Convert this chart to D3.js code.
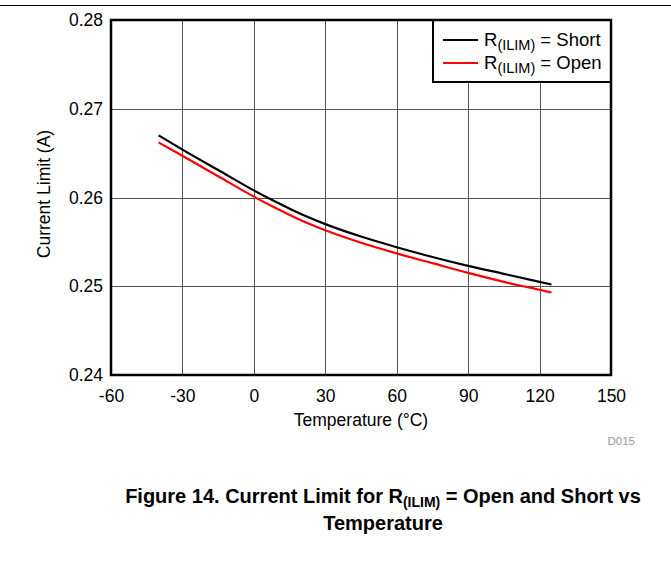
<!DOCTYPE html>
<html><head><meta charset="utf-8">
<script src="https://cdn.jsdelivr.net/npm/d3@7"></script>
<style>body{margin:0;background:#fff}svg{display:block;font-family:"Liberation Sans",Arial,sans-serif}</style>
</head><body>
<svg id="c" width="671" height="564"></svg>
<script>
const temps = [-40, -30, -15, 0, 10, 20, 30, 45, 60, 75, 90, 105, 120, 125];
const shortVals = [0.2670, 0.2654, 0.2631, 0.2608, 0.2594, 0.2581, 0.2570, 0.2556, 0.2544, 0.2533, 0.2523, 0.2514, 0.2505, 0.2502];
const openVals  = [0.2662, 0.2647, 0.2624, 0.2601, 0.2587, 0.2574, 0.2563, 0.2549, 0.2537, 0.2526, 0.2515, 0.2505, 0.2496, 0.2493];
const xTicks = [-60, -30, 0, 30, 60, 90, 120, 150];
const yTicks = [0.24, 0.25, 0.26, 0.27, 0.28];
const seriesNames = ["Short", "Open"];
const seriesColors = ["#000000", "#ff0000"];

const FONT = "Liberation Sans, Arial, sans-serif";
const svg = d3.select("#c");
const L = 111, R = 611, T = 20, B = 375;
const x = d3.scaleLinear().domain([-60, 150]).range([L, R]);
const y = d3.scaleLinear().domain([0.24, 0.28]).range([B, T]);

// top rule
svg.append("line").attr("x1", 0).attr("x2", 671).attr("y1", 5.5).attr("y2", 5.5).attr("stroke", "#000").attr("stroke-width", 1);

// grid
const g = svg.append("g");
g.selectAll(".vx").data(xTicks.slice(1, -1)).enter().append("line")
  .attr("x1", d => Math.round(x(d)) + 0.5).attr("x2", d => Math.round(x(d)) + 0.5)
  .attr("y1", T).attr("y2", B).attr("stroke", "#555").attr("stroke-width", 1);
g.selectAll(".hy").data(yTicks.slice(1, -1)).enter().append("line")
  .attr("y1", d => Math.round(y(d)) + 0.5).attr("y2", d => Math.round(y(d)) + 0.5)
  .attr("x1", L).attr("x2", R).attr("stroke", "#555").attr("stroke-width", 1);

// axes (labels only)
const xAxis = d3.axisBottom(x).tickValues(xTicks).tickSize(0).tickPadding(15).tickFormat(d => String(d));
const xa = svg.append("g").attr("transform", `translate(0,${B})`).call(xAxis);
xa.attr("font-size", null).attr("font-family", null);
xa.select(".domain").remove();
xa.selectAll("text").attr("font-size", 17.5).attr("fill", "#000").attr("font-family", FONT);

const yAxis = d3.axisLeft(y).tickValues(yTicks).tickSize(0).tickPadding(8).tickFormat(d3.format(".2f"));
const ya = svg.append("g").attr("transform", `translate(${L},0)`).call(yAxis);
ya.attr("font-size", null).attr("font-family", null);
ya.select(".domain").remove();
ya.selectAll("text").attr("font-size", 17.5).attr("fill", "#000").attr("font-family", FONT);

// lines
const line = d3.line().x((d, i) => x(temps[i])).y(d => y(d)).curve(d3.curveMonotoneX);
[shortVals, openVals].forEach((vals, k) => {
  svg.append("path").datum(vals).attr("d", line).attr("fill", "none")
    .attr("stroke", seriesColors[k]).attr("stroke-width", 2.2);
});

// legend
const lg = svg.append("g");
lg.append("rect").attr("x", 433).attr("y", T).attr("width", R - 433).attr("height", 62)
  .attr("fill", "#fff").attr("stroke", "#000").attr("stroke-width", 2);
seriesNames.forEach((nm, k) => {
  const yy = 40 + k * 23;
  lg.append("line").attr("x1", 443).attr("x2", 478).attr("y1", yy).attr("y2", yy)
    .attr("stroke", seriesColors[k]).attr("stroke-width", 2.2);
  const t = lg.append("text").attr("x", 484).attr("y", yy + 6).attr("font-size", 18.5).attr("fill", "#000");
  t.append("tspan").text("R");
  t.append("tspan").attr("font-size", 14.5).attr("dy", 4).text("(ILIM)");
  t.append("tspan").attr("dy", -4).text(" = " + nm);
});

// frame
svg.append("rect").attr("x", L).attr("y", T).attr("width", R - L).attr("height", B - T)
  .attr("fill", "none").attr("stroke", "#000").attr("stroke-width", 2.5);

// titles
svg.append("text").attr("x", 361).attr("y", 426).attr("text-anchor", "middle").attr("font-size", 17.5).text("Temperature (°C)");
svg.append("text").attr("transform", "translate(50,194) rotate(-90)").attr("text-anchor", "middle").attr("font-size", 17.5).text("Current Limit (A)");
svg.append("text").attr("x", 635).attr("y", 445).attr("text-anchor", "end").attr("font-size", 11.5).attr("fill", "#999").text("D015");

// caption
const cap = svg.append("text").attr("x", 383).attr("y", 503).attr("text-anchor", "middle").attr("font-size", 20).attr("font-weight", "bold");
cap.append("tspan").text("Figure 14. Current Limit for R");
cap.append("tspan").attr("font-size", 14).attr("dy", 4).text("(ILIM)");
cap.append("tspan").attr("dy", -4).text(" = Open and Short vs");
svg.append("text").attr("x", 383).attr("y", 530).attr("text-anchor", "middle").attr("font-size", 20).attr("font-weight", "bold").text("Temperature");
</script>
</body></html>
